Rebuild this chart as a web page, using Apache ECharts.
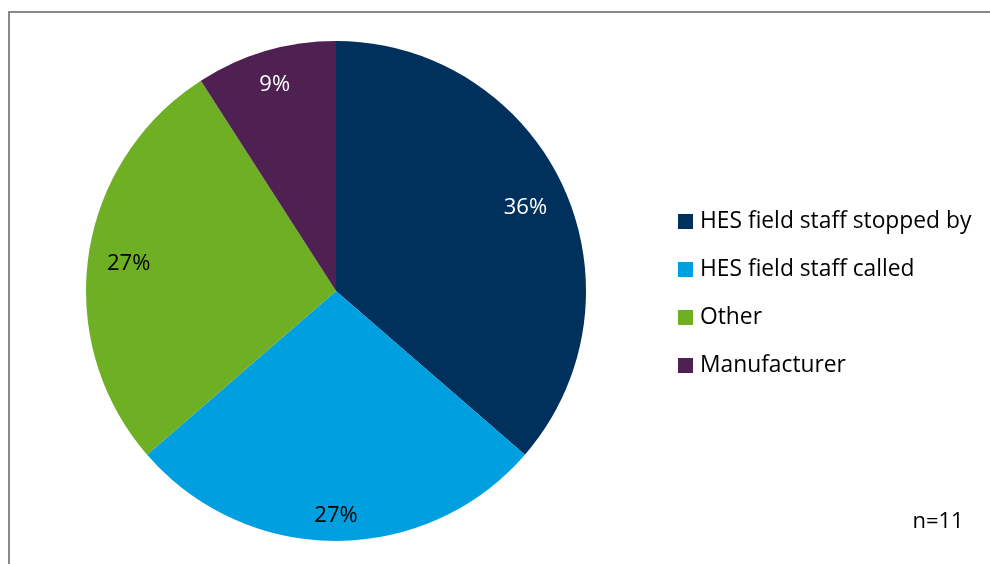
<!DOCTYPE html>
<html><head><meta charset="utf-8">
<script src="https://cdn.jsdelivr.net/npm/echarts@6/dist/echarts.min.js"></script>
<style>html,body{margin:0;padding:0;background:#fff}#c{width:990px;height:564px}</style>
</head><body><div id="c"></div>
<script>
const categories = ['HES field staff stopped by', 'HES field staff called', 'Other', 'Manufacturer'];
const counts = [4, 3, 3, 1];
const sliceColors = ['#00305C', '#009FE0', '#6EAF24', '#4F2152'];
const labelColors = ['#ffffff', '#000000', '#000000', '#ffffff'];
const sampleNote = 'n=11';

const FONT = 'Open Sans';
const CX = 336, CY = 291, R = 250;
const chart = echarts.init(document.getElementById('c'), null, {renderer: 'canvas'});
const mainData = categories.map((n, i) => ({name: n, value: counts[i], itemStyle: {color: sliceColors[i]}, label: {color: labelColors[i]}}));
const total = counts.reduce((a, b) => a + b, 0);
chart.setOption({
  animation: false,
  graphic: [
    {type: 'rect', shape: {x: 9, y: 12, width: 1100, height: 700}, style: {fill: 'none', stroke: '#888888', lineWidth: 2}, silent: true},
    {type: 'text', x: 938, y: 522, style: {text: sampleNote, font: '22px "' + FONT + '"', fill: '#000', align: 'center', verticalAlign: 'middle'}}
  ],
  legend: {
    orient: 'vertical', left: 673, top: 205,
    data: categories,
    icon: 'rect', itemWidth: 15, itemHeight: 15, itemGap: 25,
    textStyle: {fontFamily: FONT, fontSize: 22.8, lineHeight: 23, color: '#000', padding: [0, 0, 0, 2]},
    selectedMode: false
  },
  series: [
    {
      type: 'pie', center: [CX, CY], radius: [0, R], startAngle: 90, clockwise: true,
      data: mainData, silent: true,
      itemStyle: {borderWidth: 0},
      label: {show: true, position: 'inside', fontFamily: FONT, fontSize: 22,
        formatter: p => Math.round(p.value / total * 100) + '%'},
      labelLine: {show: false},
      labelLayout: function (params) {
        const r = params.labelRect;
        const mx = r.x + r.width / 2, my = r.y + r.height / 2;
        const dx = mx - CX, dy = my - CY;
        const d = Math.sqrt(dx * dx + dy * dy) || 1;
        const ux = dx / d, uy = dy / d;
        const ext = (r.width / 2) * Math.abs(ux) + (r.height / 2) * Math.abs(uy);
        const dist = R - 17.5 - ext;
        return {x: CX + ux * dist, y: CY + uy * dist + 3, align: 'center', verticalAlign: 'middle'};
      }
    }
  ]
});
</script></body></html>
